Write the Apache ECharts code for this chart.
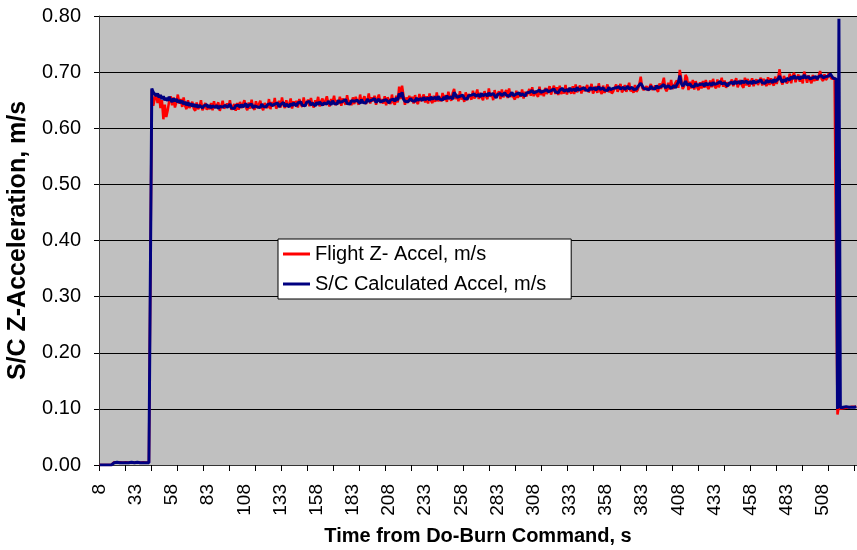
<!DOCTYPE html>
<html>
<head>
<meta charset="utf-8">
<script src="https://cdn.jsdelivr.net/npm/echarts@6/dist/echarts.min.js"></script>
<style>
html,body{margin:0;padding:0;background:#fff;}
#chart{width:857px;height:550px;}
</style>
</head>
<body>
<div id="chart"></div>
<script>
// Time axis categories (seconds from Do-Burn command)
const seconds = [];
for (let s = 8; s <= 531; s++) seconds.push(s);

const yTicks = [0, 0.1, 0.2, 0.3, 0.4, 0.5, 0.6, 0.7, 0.8];

// S/C Calculated Accel, m/s
const blueLead = [
0,0,0,0,0,0,0,0,0,0,
0.004,0.004,0.005,0.004,0.004,0.005,0.004,0.004,0.004,0.005,0.004,0.004,0.005,
0.004,0.004,0.004,0.005,0.004,0.004,0.005,0.004,0.004,0.004,0.005,0.004,0.004
];
const bluePlateau = [
0.671,0.664,0.667,0.658,0.662,0.655,0.659,0.652,0.657,0.650,0.654,0.649,0.656,0.651,0.647,0.653,0.648,0.652,0.646,0.650,
0.645,0.649,0.643,0.647,0.641,0.646,0.640,0.644,0.639,0.643,0.638,0.642,0.637,0.641,0.639,0.636,0.640,0.638,0.642,0.637,
0.641,0.636,0.640,0.643,0.637,0.641,0.635,0.639,0.642,0.638,0.636,0.641,0.637,0.640,0.643,0.636,0.639,0.635,0.640,0.638,
0.641,0.637,0.642,0.638,0.640,0.644,0.637,0.641,0.639,0.643,0.636,0.640,0.642,0.638,0.641,0.637,0.643,0.639,0.641,0.638,
0.642,0.639,0.644,0.640,0.637,0.643,0.641,0.645,0.638,0.642,0.640,0.646,0.639,0.643,0.641,0.638,0.644,0.640,0.645,0.642,
0.640,0.645,0.642,0.647,0.641,0.644,0.640,0.646,0.643,0.648,0.641,0.645,0.643,0.640,0.646,0.642,0.647,0.644,0.641,0.645,
0.647,0.643,0.648,0.645,0.642,0.649,0.644,0.647,0.643,0.650,0.646,0.643,0.648,0.645,0.651,0.644,0.647,0.643,0.649,0.646,
0.648,0.645,0.650,0.647,0.644,0.651,0.646,0.649,0.645,0.652,0.648,0.645,0.650,0.647,0.653,0.646,0.649,0.652,0.647,0.650,
0.649,0.646,0.651,0.648,0.645,0.650,0.647,0.652,0.648,0.654,0.650,0.662,0.656,0.664,0.652,0.648,0.651,0.647,0.650,0.653,
0.649,0.652,0.648,0.654,0.650,0.647,0.653,0.649,0.655,0.651,0.648,0.654,0.650,0.656,0.652,0.649,0.655,0.651,0.657,0.652,
0.654,0.650,0.656,0.652,0.658,0.653,0.650,0.656,0.652,0.664,0.660,0.655,0.652,0.657,0.654,0.659,0.653,0.656,0.652,0.658,
0.655,0.659,0.656,0.661,0.657,0.654,0.660,0.656,0.662,0.658,0.655,0.661,0.657,0.663,0.659,0.656,0.662,0.658,0.654,0.660,
0.657,0.662,0.658,0.656,0.663,0.659,0.661,0.657,0.660,0.664,0.658,0.656,0.661,0.659,0.663,0.658,0.662,0.660,0.657,0.663,
0.660,0.664,0.661,0.667,0.663,0.660,0.665,0.662,0.668,0.664,0.661,0.666,0.663,0.669,0.665,0.662,0.667,0.664,0.670,0.665,
0.667,0.663,0.668,0.665,0.671,0.666,0.663,0.669,0.665,0.672,0.667,0.664,0.670,0.666,0.673,0.668,0.665,0.670,0.667,0.672,
0.668,0.671,0.667,0.673,0.669,0.666,0.672,0.668,0.670,0.674,0.669,0.667,0.672,0.668,0.671,0.667,0.673,0.669,0.666,0.671,
0.668,0.672,0.669,0.674,0.670,0.667,0.673,0.669,0.671,0.675,0.670,0.668,0.673,0.669,0.672,0.670,0.674,0.671,0.680,0.676,
0.671,0.674,0.670,0.673,0.669,0.675,0.671,0.673,0.670,0.676,0.672,0.669,0.674,0.671,0.678,0.672,0.670,0.676,0.673,0.671,
0.673,0.676,0.672,0.678,0.682,0.694,0.680,0.675,0.679,0.684,0.677,0.674,0.679,0.675,0.678,0.674,0.680,0.676,0.673,0.678,
0.676,0.679,0.675,0.681,0.677,0.674,0.680,0.676,0.682,0.678,0.675,0.680,0.677,0.683,0.679,0.676,0.681,0.678,0.675,0.680,
0.679,0.682,0.678,0.684,0.680,0.677,0.683,0.679,0.685,0.681,0.678,0.684,0.680,0.677,0.683,0.679,0.685,0.681,0.678,0.683,
0.682,0.686,0.681,0.684,0.680,0.686,0.682,0.679,0.685,0.681,0.687,0.683,0.680,0.688,0.693,0.686,0.682,0.687,0.683,0.689,
0.690,0.686,0.692,0.688,0.694,0.689,0.686,0.691,0.687,0.693,0.689,0.695,0.690,0.687,0.692,0.688,0.685,0.690,0.687,0.692,
0.688,0.692,0.689,0.694,0.690,0.687,0.692,0.689,0.693,0.697,0.693,0.689,0.688,0.688
];
const blueTail = [0.100,0.795,0.102,0.101,0.103,0.102,0.104,0.102,0.103,0.104,0.103,0.104,0.103,0.104];

// Flight Z- Accel, m/s
const redLead = [
0,0,0,0,0,0,0,0,0,0,
0.005,0.006,0.004,0.006,0.005,0.007,0.004,0.006,0.005,0.006,0.004,0.007,0.005,
0.006,0.004,0.006,0.005,0.007,0.004,0.006,0.005,0.006,0.004,0.007,0.005,0.006
];
const redPlateau = [
0.668,0.640,0.652,0.662,0.645,0.660,0.636,0.650,0.616,0.642,0.620,0.632,0.648,0.657,0.641,0.655,0.637,0.646,0.660,0.644,
0.652,0.638,0.655,0.640,0.634,0.650,0.636,0.633,0.647,0.635,0.631,0.646,0.634,0.638,0.650,0.632,0.637,0.645,0.633,0.640,
0.634,0.645,0.632,0.648,0.636,0.633,0.646,0.631,0.640,0.649,0.635,0.632,0.644,0.637,0.650,0.633,0.638,0.643,0.631,0.645,
0.633,0.647,0.636,0.634,0.650,0.638,0.632,0.646,0.635,0.651,0.637,0.633,0.648,0.636,0.634,0.649,0.638,0.632,0.645,0.640,
0.636,0.652,0.634,0.647,0.639,0.654,0.635,0.640,0.649,0.637,0.655,0.641,0.636,0.650,0.638,0.643,0.653,0.635,0.648,0.640,
0.649,0.637,0.652,0.643,0.638,0.655,0.640,0.645,0.651,0.639,0.654,0.642,0.637,0.650,0.644,0.656,0.639,0.648,0.653,0.641,
0.640,0.657,0.644,0.639,0.652,0.646,0.658,0.641,0.650,0.643,0.656,0.640,0.653,0.647,0.642,0.659,0.645,0.650,0.641,0.655,
0.643,0.656,0.648,0.642,0.660,0.645,0.651,0.657,0.643,0.649,0.662,0.644,0.655,0.648,0.658,0.642,0.653,0.660,0.645,0.652,
0.644,0.657,0.641,0.655,0.650,0.643,0.660,0.646,0.642,0.658,0.646,0.674,0.652,0.676,0.658,0.642,0.655,0.645,0.658,0.648,
0.656,0.644,0.659,0.647,0.643,0.661,0.648,0.645,0.660,0.646,0.657,0.644,0.662,0.649,0.645,0.658,0.647,0.664,0.648,0.656,
0.648,0.663,0.650,0.659,0.647,0.665,0.655,0.649,0.663,0.670,0.652,0.660,0.648,0.666,0.651,0.657,0.647,0.664,0.650,0.661,
0.664,0.651,0.667,0.653,0.660,0.669,0.652,0.663,0.655,0.650,0.666,0.657,0.652,0.671,0.656,0.663,0.650,0.668,0.655,0.652,
0.666,0.652,0.669,0.655,0.653,0.668,0.654,0.671,0.656,0.660,0.658,0.651,0.667,0.654,0.664,0.656,0.669,0.653,0.665,0.657,
0.655,0.670,0.658,0.673,0.657,0.667,0.660,0.656,0.674,0.659,0.668,0.657,0.672,0.661,0.659,0.675,0.660,0.669,0.676,0.661,
0.673,0.659,0.676,0.661,0.668,0.662,0.677,0.660,0.671,0.666,0.662,0.675,0.661,0.678,0.664,0.670,0.676,0.662,0.674,0.666,
0.663,0.677,0.664,0.669,0.679,0.662,0.667,0.675,0.663,0.680,0.666,0.661,0.676,0.663,0.665,0.678,0.664,0.670,0.662,0.666,
0.664,0.678,0.665,0.671,0.679,0.664,0.668,0.677,0.665,0.672,0.681,0.666,0.670,0.663,0.677,0.665,0.669,0.678,0.692,0.672,
0.668,0.665,0.675,0.667,0.664,0.679,0.668,0.666,0.676,0.669,0.665,0.680,0.670,0.667,0.690,0.670,0.666,0.681,0.669,0.686,
0.670,0.668,0.681,0.685,0.672,0.704,0.688,0.670,0.675,0.695,0.690,0.668,0.683,0.671,0.686,0.669,0.684,0.673,0.668,0.682,
0.671,0.684,0.672,0.686,0.674,0.670,0.685,0.673,0.688,0.675,0.671,0.687,0.673,0.680,0.690,0.674,0.685,0.672,0.682,0.676,
0.674,0.687,0.675,0.678,0.689,0.673,0.680,0.686,0.676,0.672,0.690,0.676,0.688,0.674,0.677,0.689,0.675,0.683,0.687,0.677,
0.678,0.690,0.676,0.688,0.679,0.675,0.691,0.677,0.689,0.680,0.676,0.692,0.679,0.690,0.705,0.684,0.678,0.693,0.686,0.680,
0.684,0.697,0.680,0.693,0.699,0.682,0.690,0.696,0.683,0.691,0.680,0.701,0.692,0.681,0.694,0.686,0.680,0.695,0.684,0.690,
0.685,0.693,0.702,0.688,0.684,0.696,0.686,0.690,0.698,0.692,0.688,0.686,0.690,0.687
];
const redTail = [0.090,0.105,0.100,0.102,0.101,0.103,0.102,0.104,0.103,0.102,0.104,0.103,0.104,0.103];

const flightAccel = redLead.concat(redPlateau, redTail);
const calcAccel = blueLead.concat(bluePlateau, blueTail);

const chart = echarts.init(document.getElementById('chart'), null, {renderer: 'canvas'});
const font = '"Liberation Sans", Arial, sans-serif';
chart.setOption({
  animation: false,
  backgroundColor: '#ffffff',
  textStyle: {fontFamily: font},
  grid: {left: 99, top: 16, right: 0, bottom: 85, show: true, backgroundColor: '#c0c0c0', borderWidth: 0,
         containLabel: false, outerBoundsMode: 'none'},
  legend: {
    orient: 'vertical', left: 278, top: 239,
    backgroundColor: '#ffffff', borderColor: '#000000', borderWidth: 1,
    padding: [5, 25, 5, 5], itemGap: 10, itemWidth: 27, itemHeight: 3,
    icon: 'rect',
    textStyle: {fontSize: 20, color: '#000', fontFamily: font, lineHeight: 20},
    data: ['Flight Z- Accel, m/s', 'S/C Calculated Accel, m/s']
  },
  xAxis: {
    type: 'category',
    data: seconds,
    boundaryGap: true,
    name: 'Time from Do-Burn Command, s',
    nameLocation: 'middle', nameGap: 61,
    nameTextStyle: {fontSize: 20, fontWeight: 'bold', color: '#000', fontFamily: font},
    axisLine: {show: true, lineStyle: {color: '#333', width: 1}},
    axisTick: {show: true, interval: 17, length: 6, lineStyle: {color: '#000'}},
    axisLabel: {interval: 24, rotate: 90, fontSize: 19, color: '#000', margin: 19, fontFamily: font},
    splitLine: {show: false}
  },
  yAxis: {
    type: 'value', min: yTicks[0], max: yTicks[yTicks.length - 1], interval: 0.1,
    name: 'S/C Z-Acceleration, m/s',
    nameLocation: 'middle', nameGap: 68, nameRotate: 90,
    nameTextStyle: {fontSize: 25, fontWeight: 'bold', color: '#000', fontFamily: font},
    axisLine: {show: true, lineStyle: {color: '#333', width: 1}},
    axisTick: {show: true, length: 5, lineStyle: {color: '#000'}},
    axisLabel: {fontSize: 20, color: '#000', margin: 18, formatter: v => v.toFixed(2), fontFamily: font},
    splitLine: {show: true, lineStyle: {color: '#000', width: 1}}
  },
  series: [
    {name: 'Flight Z- Accel, m/s', type: 'line', data: flightAccel, showSymbol: false, symbol: 'none',
     lineStyle: {color: '#ff0000', width: 2.5}, itemStyle: {color: '#ff0000'}},
    {name: 'S/C Calculated Accel, m/s', type: 'line', data: calcAccel, showSymbol: false, symbol: 'none',
     lineStyle: {color: '#000080', width: 3}, itemStyle: {color: '#000080'}}
  ]
});
</script>
</body>
</html>
